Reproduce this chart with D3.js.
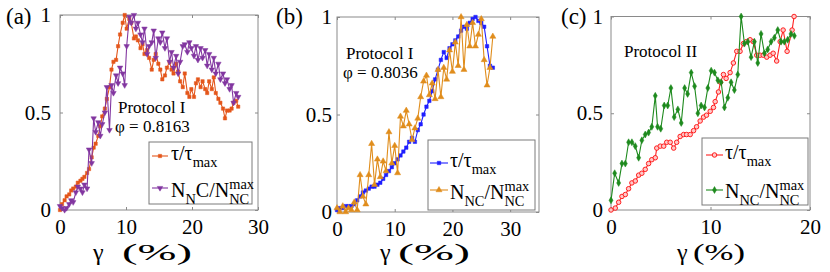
<!DOCTYPE html>
<html>
<head>
<meta charset="utf-8">
<script src="https://cdn.jsdelivr.net/npm/d3@7"></script>
<style>
  body { margin: 0; background: #fff; }
  svg text { font-family: "Liberation Serif", "Times New Roman", Times, serif; fill: #000; }
</style>
</head>
<body>
<svg id="chart" width="830" height="272"></svg>
<script>
// panel (a), protocol I, phi = 0.8163
const gammaA = [0, 0.3, 0.7, 1.0, 1.4, 1.7, 2.0, 2.4, 2.7, 3.1, 3.4, 3.7, 4.1, 4.4, 4.8, 5.1, 5.4, 5.8, 6.1, 6.4,
  6.8, 7.1, 7.5, 7.8, 8.1, 8.5, 8.8, 9.1, 9.5, 9.8, 10.1, 10.5, 10.8, 11.2, 11.5, 11.8, 12.2, 12.5, 12.8, 13.2,
  13.5, 13.9, 14.2, 14.5, 14.9, 15.2, 15.5, 15.9, 16.2, 16.6, 16.9, 17.2, 17.6, 17.9, 18.2, 18.6, 18.9, 19.3, 19.6, 19.9,
  20.3, 20.6, 20.9, 21.3, 21.6, 22.0, 22.3, 22.6, 23.0, 23.3, 23.6, 24.0, 24.3, 24.7, 25.0, 25.3, 25.7, 26.0, 26.3, 26.7, 27.0];
const tauA = [0.00, 0.03, 0.05, 0.07, 0.08, 0.10, 0.11, 0.12, 0.14, 0.15, 0.16, 0.17, 0.19, 0.21, 0.27, 0.32, 0.34, 0.38, 0.43, 0.48,
  0.52, 0.57, 0.63, 0.72, 0.76, 0.77, 0.84, 0.90, 0.96, 1.00, 0.93, 0.98, 0.96, 0.88, 0.89, 0.87, 0.83, 0.85, 0.80, 0.82,
  0.78, 0.72, 0.77, 0.80, 0.75, 0.72, 0.67, 0.69, 0.73, 0.76, 0.72, 0.70, 0.75, 0.71, 0.66, 0.63, 0.70, 0.60, 0.58, 0.62,
  0.58, 0.65, 0.67, 0.63, 0.66, 0.62, 0.60, 0.66, 0.62, 0.68, 0.60, 0.57, 0.55, 0.52, 0.47, 0.51, 0.51, 0.52, 0.55, 0.56, 0.53];
const ncA = [0.02, 0.01, 0.00, 0.01, 0.03, 0.05, 0.04, 0.09, 0.12, 0.11, 0.09, 0.13, 0.11, 0.31, 0.24, 0.47, 0.40, 0.45, 0.38, 0.44,
  0.50, 0.63, 0.41, 0.64, 0.60, 0.69, 0.65, 0.73, 0.70, 0.64, 0.84, 0.99, 0.96, 1.00, 0.93, 0.96, 0.90, 0.86, 0.93, 0.80,
  0.84, 0.86, 0.92, 0.78, 0.88, 0.86, 0.91, 0.83, 0.88, 0.76, 0.81, 0.73, 0.79, 0.70, 0.76, 0.84, 0.85, 0.81, 0.86, 0.83,
  0.79, 0.84, 0.77, 0.83, 0.78, 0.82, 0.74, 0.80, 0.72, 0.78, 0.70, 0.75, 0.67, 0.70, 0.65, 0.67, 0.62, 0.64, 0.55, 0.60, 0.58];

// panel (b), protocol I, phi = 0.8036
const gammaB = [0, 0.5, 1.0, 1.5, 2.0, 2.5, 3.0, 3.5, 4.0, 4.5, 5.0, 5.5, 6.0, 6.5, 7.0, 7.5, 8.0, 8.5, 9.0, 9.5,
  10.0, 10.5, 11.0, 11.5, 12.0, 12.5, 13.0, 13.5, 14.0, 14.5, 15.0, 15.5, 16.0, 16.5, 17.0, 17.5, 18.0, 18.5, 19.0, 19.5,
  20.0, 20.5, 21.0, 21.5, 22.0, 22.5, 23.0, 23.5, 24.0, 24.5, 25.0, 25.5, 26.0, 26.5, 27.0];
const tauB = [0.01, 0.02, 0.02, 0.03, 0.03, 0.03, 0.04, 0.06, 0.08, 0.10, 0.11, 0.12, 0.13, 0.13, 0.14, 0.15, 0.17, 0.19, 0.21, 0.23,
  0.25, 0.27, 0.29, 0.31, 0.33, 0.36, 0.38, 0.36, 0.42, 0.45, 0.50, 0.54, 0.57, 0.62, 0.68, 0.73, 0.78, 0.82, 0.79, 0.84,
  0.86, 0.88, 0.90, 0.93, 0.95, 0.94, 0.97, 0.99, 1.00, 0.98, 0.97, 0.95, 0.85, 0.75, 0.74];
const ncB = [0.02, 0.00, 0.03, 0.00, 0.02, 0.01, 0.05, 0.01, 0.19, 0.08, 0.04, 0.19, 0.35, 0.14, 0.27, 0.18, 0.26, 0.21, 0.41, 0.25,
  0.34, 0.20, 0.49, 0.44, 0.52, 0.45, 0.37, 0.43, 0.48, 0.59, 0.67, 0.70, 0.60, 0.66, 0.58, 0.73, 0.59, 0.74, 0.68, 0.83,
  0.72, 0.87, 0.75, 1.00, 0.73, 0.96, 0.85, 0.97, 0.85, 0.91, 0.99, 0.78, 0.65, 0.74, 0.90];

// panel (c), protocol II
const gammaCtau = [0, 0.43, 0.77, 1.1, 1.44, 1.77, 2.1, 2.44, 2.78, 3.1, 3.44, 3.78, 4.1, 4.45, 4.6, 4.95, 5.3, 5.6, 5.95, 6.3,
  6.6, 6.95, 7.3, 7.6, 7.96, 8.3, 8.6, 8.96, 9.3, 9.6, 9.97, 10.3, 10.47, 10.8, 11.0, 11.3, 11.57, 11.97, 12.3, 12.64,
  12.97, 13.3, 13.6, 13.98, 14.3, 14.65, 14.98, 15.3, 15.65, 15.99, 16.3, 16.65, 17.0, 17.3, 17.7, 18.2, 18.4];
const tauC = [0.00, 0.01, 0.04, 0.07, 0.08, 0.11, 0.14, 0.15, 0.18, 0.19, 0.21, 0.24, 0.26, 0.27, 0.32, 0.33, 0.33, 0.35, 0.35, 0.32,
  0.35, 0.38, 0.39, 0.39, 0.39, 0.41, 0.43, 0.46, 0.48, 0.49, 0.51, 0.53, 0.56, 0.61, 0.66, 0.70, 0.68, 0.71, 0.76, 0.82,
  0.82, 0.86, 0.87, 0.88, 0.87, 0.80, 0.80, 0.80, 0.79, 0.80, 0.81, 0.77, 0.87, 0.93, 0.82, 0.93, 1.00];
const gammaCnc = [0, 0.37, 0.77, 1.1, 1.44, 1.77, 2.1, 2.44, 2.78, 3.1, 3.44, 3.78, 4.1, 4.45, 4.68, 5.0, 5.35, 5.7, 6.02, 6.35,
  6.72, 7.06, 7.4, 7.7, 8.06, 8.4, 8.73, 9.06, 9.4, 9.73, 10.07, 10.4, 10.74, 11.07, 11.4, 11.74, 12.07, 12.4, 12.74, 13.08,
  13.41, 13.75, 14.08, 14.41, 14.75, 15.08, 15.42, 15.75, 16.09, 16.42, 16.76, 17.09, 17.42, 17.76, 18.09, 18.43];
const ncC = [0.05, 0.19, 0.14, 0.24, 0.24, 0.35, 0.35, 0.33, 0.27, 0.36, 0.39, 0.40, 0.43, 0.59, 0.43, 0.42, 0.54, 0.54, 0.63, 0.48,
  0.52, 0.45, 0.63, 0.60, 0.71, 0.64, 0.50, 0.54, 0.53, 0.63, 0.72, 0.71, 0.67, 0.66, 0.53, 0.58, 0.66, 0.62, 0.70, 1.00,
  0.86, 0.87, 0.79, 0.87, 0.76, 0.91, 0.81, 0.83, 0.87, 0.89, 0.93, 0.87, 0.87, 0.88, 0.91, 0.90];

const yTicks = [0, 0.5, 1];
const xTicksA = [0, 10, 20, 30];
const xTicksB = [0, 10, 20, 30];
const xTicksC = [0, 10, 20];

const FONT = '"Liberation Serif", "Times New Roman", Times, serif';
const svg = d3.select('#chart').attr('font-family', FONT);

// writes text pieces one after the other, sub/sup like MATLAB tex
function richLabel(g, x, y, parts, size) {
  let cx = x;
  parts.forEach(p => {
    const small = p.shift !== 'base';
    const dy = p.shift === 'sub' ? size * 0.33 : (p.shift === 'sup' ? -size * 0.42 : 0);
    const t = g.append('text')
      .attr('x', cx)
      .attr('y', y + dy)
      .attr('font-size', small ? size * 0.72 : size)
      .text(p.text);
    if (!p.stack) cx += t.node().getComputedTextLength();
  });
}

const tauParts = [{text: 'τ/τ', shift: 'base'}, {text: 'max', shift: 'sub'}];
const ncParts = [{text: 'N', shift: 'base'}, {text: 'NC', shift: 'sub'}, {text: '/N', shift: 'base'},
  {text: 'NC', shift: 'sub', stack: true}, {text: 'max', shift: 'sup'}];
const ncPartsA = [{text: 'N', shift: 'base'}, {text: 'N', shift: 'sub'}, {text: 'C/N', shift: 'base'},
  {text: 'NC', shift: 'sub', stack: true}, {text: 'max', shift: 'sup'}];

function drawPanel(p) {
  const x = d3.scaleLinear().domain(p.xDomain).range([p.left, p.right]);
  const y = d3.scaleLinear().domain([0, 1]).range([p.bottom, p.top]);
  const g = svg.append('g');

  // box
  g.append('rect')
    .attr('x', p.left).attr('y', p.top)
    .attr('width', p.right - p.left).attr('height', p.bottom - p.top)
    .attr('fill', 'none').attr('stroke', '#8a8a8a').attr('stroke-width', 1);

  const fmt = d3.format('~g');
  g.append('g')
    .attr('transform', `translate(0,${p.bottom})`)
    .call(d3.axisBottom(x).tickValues(p.xTicks).tickSizeInner(-3).tickSizeOuter(0).tickPadding(9).tickFormat(fmt));
  g.append('g')
    .attr('transform', `translate(0,${p.top})`)
    .call(d3.axisTop(x).tickValues(p.xTicks).tickSizeInner(-3).tickSizeOuter(0).tickFormat(''));
  g.append('g')
    .attr('transform', `translate(${p.left},0)`)
    .call(d3.axisLeft(y).tickValues(yTicks).tickSizeInner(-3).tickSizeOuter(0).tickPadding(p.yPad).tickFormat(fmt));
  g.append('g')
    .attr('transform', `translate(${p.right},0)`)
    .call(d3.axisRight(y).tickValues(yTicks).tickSizeInner(-3).tickSizeOuter(0).tickFormat(''));

  g.selectAll('.domain').remove();
  g.selectAll('g').attr('font-family', FONT);
  g.selectAll('.tick line').attr('stroke', '#8a8a8a');
  g.selectAll('.tick text').attr('font-size', 21).attr('fill', '#000');

  // series
  p.series.forEach(s => {
    const pts = s.gamma.map((gv, i) => [gv, s.values[i]]);
    const line = d3.line().x(d => x(d[0])).y(d => y(d[1]));
    g.append('path')
      .attr('d', line(pts))
      .attr('fill', 'none')
      .attr('stroke', s.color)
      .attr('stroke-width', 1.1);
    const sym = d3.symbol().type(s.symbol).size(s.size);
    g.selectAll(null)
      .data(pts)
      .enter()
      .append('path')
      .attr('d', sym)
      .attr('transform', d => `translate(${x(d[0])},${y(d[1])}) rotate(${s.rotate || 0})`)
      .attr('fill', s.fill || s.color)
      .attr('stroke', s.color)
      .attr('stroke-width', s.markerStroke || 0.5);
  });

  // legend
  const L = p.legend;
  g.append('rect')
    .attr('x', L.x0).attr('y', L.y0)
    .attr('width', L.x1 - L.x0).attr('height', L.y1 - L.y0)
    .attr('fill', '#fff').attr('stroke', '#7a7a7a').attr('stroke-width', 1);
  p.series.forEach((s, i) => {
    const ry = L.rows[i];
    g.append('line')
      .attr('x1', L.lx0).attr('x2', L.lx1)
      .attr('y1', ry).attr('y2', ry)
      .attr('stroke', s.color).attr('stroke-width', 1.1);
    g.append('path')
      .attr('d', d3.symbol().type(s.symbol).size(s.size))
      .attr('transform', `translate(${(L.lx0 + L.lx1) / 2},${ry}) rotate(${s.rotate || 0})`)
      .attr('fill', s.fill || s.color)
      .attr('stroke', s.color)
      .attr('stroke-width', s.markerStroke || 0.5);
    richLabel(g, L.tx, ry + L.base[i], s.label, 20);
  });

  // annotations
  p.notes.forEach(n => {
    g.append('text').attr('x', n.x).attr('y', n.y).attr('font-size', 17).text(n.text);
  });
  g.append('text').attr('x', p.tagX).attr('y', 24).attr('font-size', 23).text(p.tag);

  // x label: gamma, then a wide "(%)"
  g.append('text').attr('x', p.gx).attr('y', 260).attr('font-size', 24).text('γ');
  g.append('text')
    .attr('x', p.px0).attr('y', 260)
    .attr('font-size', 24)
    .attr('textLength', p.px1 - p.px0)
    .attr('lengthAdjust', 'spacingAndGlyphs')
    .text('(%)');
}

drawPanel({
  left: 60, right: 258, top: 15, bottom: 210, xDomain: [0, 30], xTicks: xTicksA, yPad: 9,
  tag: '(a)', tagX: 6, gx: 93, px0: 122, px1: 192,
  notes: [{x: 118, y: 113, text: 'Protocol I'}, {x: 115, y: 132, text: 'φ = 0.8163'}],
  series: [
    {gamma: gammaA, values: tauA, color: '#e4561b', symbol: d3.symbolSquare, size: 11, label: tauParts},
    {gamma: gammaA, values: ncA, color: '#8236a0', symbol: d3.symbolTriangle, size: 13, rotate: 180, label: ncPartsA}
  ],
  legend: {x0: 149, y0: 142, x1: 252, y1: 204, rows: [156, 188], lx0: 152, lx1: 168, tx: 171, base: [4, 9]}
});

drawPanel({
  left: 337, right: 539, top: 17, bottom: 212, xDomain: [0, 35], xTicks: xTicksB, yPad: 5,
  tag: '(b)', tagX: 276, gx: 380, px0: 398, px1: 470,
  notes: [{x: 346, y: 59, text: 'Protocol I'}, {x: 343, y: 78, text: 'φ = 0.8036'}],
  series: [
    {gamma: gammaB, values: tauB, color: '#1f1fff', symbol: d3.symbolSquare, size: 12, label: tauParts},
    {gamma: gammaB, values: ncB, color: '#e08d1c', symbol: d3.symbolTriangle, size: 16, label: ncParts}
  ],
  legend: {x0: 428, y0: 140, x1: 535, y1: 210, rows: [163, 190], lx0: 430, lx1: 448, tx: 450, base: [4, 9]}
});

drawPanel({
  left: 611, right: 810, top: 16.5, bottom: 210, xDomain: [0, 20], xTicks: xTicksC, yPad: 8,
  tag: '(c)', tagX: 561, gx: 677, px0: 693, px1: 745,
  notes: [{x: 624, y: 57, text: 'Protocol II'}],
  series: [
    {gamma: gammaCtau, values: tauC, color: '#ff1f1f', symbol: d3.symbolCircle, size: 16, fill: '#ffc8c8', markerStroke: 1, label: tauParts},
    {gamma: gammaCnc, values: ncC, color: '#1e8a1e', symbol: d3.symbolDiamond, size: 14, label: ncParts}
  ],
  legend: {x0: 702, y0: 138, x1: 808, y1: 205, rows: [155, 190], lx0: 706, lx1: 723, tx: 725, base: [4, 8]}
});
</script>
</body>
</html>
